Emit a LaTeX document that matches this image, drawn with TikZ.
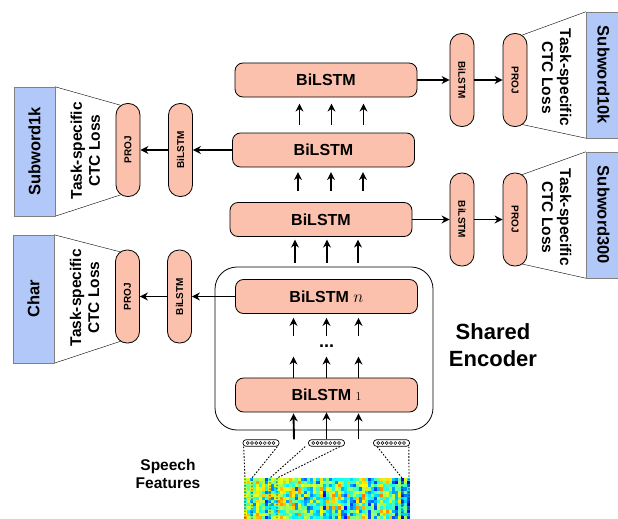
\documentclass[tikz,border=0pt]{standalone}
\usepackage{fontspec}
\setmainfont{Liberation Sans}
\usepackage{tikz}
\usetikzlibrary{arrows.meta}
\usetikzlibrary{calc}
\usetikzlibrary{backgrounds}
\definecolor{salmon}{RGB}{252,193,172}
\definecolor{lossblue}{RGB}{178,200,248}

\begin{document}
\begin{tikzpicture}[x=1pt, y=-1pt, >={Stealth[length=8pt,width=8pt]},
    layer/.style={draw, line width=0.8pt, fill=salmon, rounded corners=8pt, minimum width=182pt,
        minimum height=34pt, font=\bfseries\fontsize{16}{16}\selectfont},
    pill/.style={draw, line width=0.8pt, fill=salmon, rounded corners=11.5pt, minimum width=24pt,
        minimum height=93pt, inner sep=0pt, font=\bfseries\fontsize{10}{10}\selectfont},
    loss/.style={draw=gray, fill=lossblue, inner sep=0pt, font=\bfseries\fontsize{16.5}{16.5}\selectfont},
    ctc/.style={align=center, inner sep=0pt, font=\bfseries\fontsize{15.5}{18}\selectfont},
    up/.style={->, line width=1.9pt},
    feed/.style={->, line width=1.7pt},
    vec/.style={draw, rounded corners=3pt, minimum width=36pt, minimum height=6.5pt,
        inner sep=0pt, line width=0.7pt},
    frame/.style={line width=0.9pt, dash pattern=on 1.6pt off 1.6pt}]

    \useasboundingbox (0,0) rectangle (618,519);

    \node[draw, line width=0.8pt, rounded corners=22pt, minimum width=218pt, minimum height=163pt] (enc) at (324,348.5) {};

    \node[layer] (top) at (326,80) {BiLSTM};
    \node[layer] (mid) at (323.5,150) {BiLSTM};
    \node[layer] (low) at (321,219.5) {BiLSTM};
    \node[layer] (encn) at (326.5,296.5) {BiLSTM $n$};
    \node[layer] (enc1) at (326.5,395) {BiLSTM {\fontsize{12}{12}\selectfont$1$}};
    \node[font=\bfseries\fontsize{18}{18}\selectfont] (dots) at (326.5,346) {...};

    \node[font=\bfseries\fontsize{22}{27}\selectfont, align=center] (shared) at (493,345) {Shared\\Encoder};
    \node[font=\bfseries\fontsize{15.5}{18}\selectfont, align=center] (speech) at (168,474) {Speech\\Features};

    % task branches
    \node[loss, minimum width=41pt, minimum height=129pt] (subA) at (34.5,151.5) {\rotatebox{90}{Subword1k}};
    \node[pill] (projA) at (128,150) {\rotatebox{90}{PROJ}};
    \node[pill] (bilA) at (180.5,150) {\rotatebox{90}{BiLSTM}};

    \node[loss, minimum width=41pt, minimum height=128pt] (charC) at (33.5,299) {\rotatebox{90}{Char}};
    \node[pill] (projC) at (127.5,296.5) {\rotatebox{90}{PROJ}};
    \node[pill] (bilC) at (179.5,296.5) {\rotatebox{90}{BiLSTM}};

    \node[loss, minimum width=35pt, minimum height=126pt] (subD) at (603.5,75) {\rotatebox{-90}{Subword10k}};
    \node[pill] (bilD) at (462,80) {\rotatebox{-90}{BiLSTM}};
    \node[pill] (projD) at (515,80) {\rotatebox{-90}{PROJ}};

    \node[loss, minimum width=35pt, minimum height=126pt] (subE) at (603.5,215) {\rotatebox{-90}{Subword300}};
    \node[pill] (bilE) at (462,219.5) {\rotatebox{-90}{BiLSTM}};
    \node[pill] (projE) at (515,219.5) {\rotatebox{-90}{PROJ}};

    \node[ctc, rotate=90] (ctcA) at ($(subA.east)!0.5!(projA.west)$) {Task-specific\\CTC Loss};
    \node[ctc, rotate=90] (ctcC) at ($(charC.east)!0.5!(projC.west)$) {Task-specific\\CTC Loss};
    \node[ctc, rotate=-90] (ctcD) at ($(projD.east)!0.5!(subD.west)$) {Task-specific\\CTC Loss};
    \node[ctc, rotate=-90] (ctcE) at ($(projE.east)!0.5!(subE.west)$) {Task-specific\\CTC Loss};

    \begin{scope}[on background layer, line width=0.8pt]
        \draw (subA.north east) -- ([xshift=8pt,yshift=-3pt]projA.north west);
        \draw (subA.south east) -- ([xshift=8pt,yshift=3pt]projA.south west);
        \draw (charC.north east) -- ([xshift=8pt,yshift=-3pt]projC.north west);
        \draw (charC.south east) -- ([xshift=8pt,yshift=3pt]projC.south west);
        \draw (subD.north west) -- ([xshift=-8pt,yshift=-3pt]projD.north east);
        \draw (subD.south west) -- ([xshift=-8pt,yshift=3pt]projD.south east);
        \draw (subE.north west) -- ([xshift=-8pt,yshift=-3pt]projE.north east);
        \draw (subE.south west) -- ([xshift=-8pt,yshift=3pt]projE.south east);
    \end{scope}

    % Edges
    \draw[feed] (top) -- (bilD);
    \draw[feed] (bilD) -- (projD);
    \draw[feed] (mid) -- (bilA);
    \draw[feed] (bilA) -- (projA);
    \draw[feed] (low) -- (bilE);
    \draw[feed] (bilE) -- (projE);
    \draw[feed] (encn) -- (bilC);
    \draw[feed] (bilC) -- (projC);

    \foreach \dx in {-24,8,40}
        \draw[up] ($(mid.north)+(\dx,-8)$) -- ++(0,-21);
    \foreach \dx in {-23,10,42}
        \draw[up] ($(low.north)+(\dx,-11)$) -- ++(0,-19);
    \foreach \dx in {-29,3,34}
        \draw[up] ($(enc.north)+(\dx,-4)$) -- ++(0,-23);
    \foreach \dx in {-33,0,32}
        \draw[up] ($(encn.south)+(\dx,22)$) -- ++(0,-18);
    \foreach \dx in {-33,0,32}
        \draw[up] ($(enc1.north)+(\dx,0)$) -- ++(0,-21);

    % spectrogram
    \pgfmathsetseed{11}
    \foreach \c in {0,...,54}{
        \pgfmathsetmacro{\cb}{0.45+0.15*rand}
        \foreach \r in {0,...,12}{
            \pgfmathsetmacro{\v}{max(0,min(1,\cb+0.2*rand))}
            \pgfmathsetmacro{\cr}{max(0,min(1,1.5-abs(4*\v-3)))}
            \pgfmathsetmacro{\cg}{max(0,min(1,1.5-abs(4*\v-2)))}
            \pgfmathsetmacro{\cbl}{max(0,min(1,1.5-abs(4*\v-1)))}
            \definecolor{cell}{rgb}{\cr,\cg,\cbl}
            \fill[cell] (244+\c*3.02,478+\r*3.16) rectangle ++(3.1,3.25);
        }
    }

    \node[vec] (vecA) at (261,443) {};
    \node[vec] (vecB) at (326.5,443) {};
    \node[vec] (vecC) at (391.5,443) {};
    \foreach \v in {vecA,vecB,vecC}
        \foreach \i in {0,...,6}
            \draw[line width=0.5pt] ($(\v.west)+(5+\i*4.3,0)$) circle (1.5pt);

    \draw[up] ($(vecA.north)+(33,0)$) -- ($(enc1.south)+(-33,1)$);
    \draw[up] (vecB) -- (enc1);
    \draw[up] ($(vecC.north)+(-33,0)$) -- ($(enc1.south)+(32,1)$);

    \coordinate (fA1) at (245,478);
    \coordinate (fA2) at (252,478);
    \coordinate (fB1) at (270,478);
    \coordinate (fB2) at (277,478);
    \coordinate (fC1) at (402,478);
    \coordinate (fC2) at (409,478);
    \draw[frame] ([xshift=1pt]vecA.south west) -- (fA1) -- ++(0,41);
    \draw[frame] ([xshift=-2pt]vecA.south east) -- (fA2) -- ++(0,41);
    \draw[frame] ([xshift=-3pt]vecB.south west) -- (fB1) -- ++(0,41);
    \draw[frame] ([xshift=-5pt]vecB.south east) -- (fB2) -- ++(0,41);
    \draw[frame] ([xshift=4pt]vecC.south west) -- (fC1) -- ++(0,41);
    \draw[frame] ([xshift=-1pt]vecC.south east) -- (fC2) -- ++(0,41);

\end{tikzpicture}
\end{document}
